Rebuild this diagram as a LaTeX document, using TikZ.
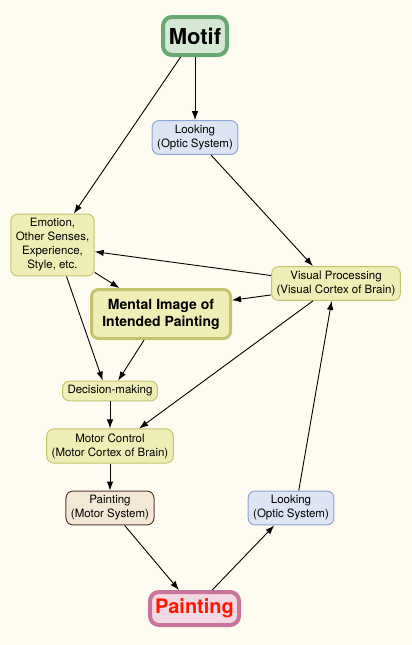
\documentclass[tikz,border=0pt]{standalone}
\usepackage{fontspec}
\setmainfont{TeX Gyre Heros}
\usetikzlibrary{positioning, arrows.meta}

\definecolor{bgcream}{RGB}{254,252,240}
\definecolor{yfill}{RGB}{238,238,182}
\definecolor{yline}{RGB}{196,196,112}
\definecolor{bfill}{RGB}{221,228,243}
\definecolor{bline}{RGB}{140,164,214}
\definecolor{gfill}{RGB}{213,232,212}
\definecolor{gline}{RGB}{104,168,114}
\definecolor{pfill}{RGB}{242,215,228}
\definecolor{pline}{RGB}{201,116,155}
\definecolor{pred}{RGB}{255,24,0}
\definecolor{tfill}{RGB}{243,232,212}
\definecolor{tline}{RGB}{88,56,56}

\begin{document}
\begin{tikzpicture}[x=1pt, y=1pt]
    % settings for this picture
    \tikzset{
      >={Latex[length=9pt,width=6.5pt]},
      on grid,
      every node/.style={font=\fontsize{11.5}{14}\selectfont, align=center,
        rounded corners=7pt, inner xsep=5pt, inner ysep=4.5pt},
      link/.style={->, line width=0.9pt},
      yellowbox/.style={draw=yline, fill=yfill, line width=1pt},
      bluebox/.style={draw=bline, fill=bfill, line width=1pt},
      tanbox/.style={draw=tline, fill=tfill, line width=1pt},
      bigbox/.style={line width=4pt, inner sep=0pt, rounded corners=9pt},
    }
    \fill[bgcream] (0,0) rectangle (412,-645);
    \useasboundingbox (0,0) rectangle (412,-645);

    % nodes
    \node[bigbox, draw=gline, fill=gfill, minimum width=64pt, minimum height=38pt,
          font=\fontsize{22}{26}\selectfont\bfseries] (motif) at (195,-36) {Motif};
    \node[bluebox, below=101.5pt of motif] (look1) {Looking\\(Optic System)};
    \node[yellowbox, below left=209pt and 142.5pt of motif] (emotion)
         {Emotion,\\Other Senses,\\Experience,\\Style, etc.};
    \node[yellowbox, line width=3pt, minimum width=139pt, minimum height=49pt, inner sep=0pt,
          font=\fontsize{14}{17}\selectfont\bfseries, below right=69pt and 108.5pt of emotion] (mental)
         {Mental Image of\\Intended Painting};
    \node[yellowbox, below right=146pt and 141pt of look1] (visual)
         {Visual Processing\\(Visual Cortex of Brain)};
    \node[yellowbox, below left=77pt and 51pt of mental] (decision) {Decision-making};
    \node[yellowbox, below=55pt of decision] (motor) {Motor Control\\(Motor Cortex of Brain)};
    \node[tanbox, below=62pt of motor] (paintm) {Painting\\(Motor System)};
    \node[bluebox, right=181pt of paintm] (look2) {Looking\\(Optic System)};
    \node[bigbox, draw=pline, fill=pfill, text=pred, minimum width=89pt, minimum height=33pt,
          font=\fontsize{20}{24}\selectfont\bfseries, below right=100.5pt and 84.5pt of paintm] (painting)
         {Painting};

    % arrows
    \draw[link] (motif) -- (look1);
    \draw[link] (motif) -- (emotion);
    \draw[link] (look1) -- (visual.143);
    \draw[link] (visual.173) -- (emotion.-9);
    \draw[link] (visual.190) -- (mental.11);
    \draw[link] (emotion.-33) -- (mental.148);
    \draw[link] (emotion.-66) -- (decision.125);
    \draw[link] (mental.-123) -- (decision.52);
    \draw[link] (visual.217) -- (motor.31);
    \draw[link] (decision) -- (motor);
    \draw[link] (motor) -- (paintm);
    \draw[link] (paintm) -- (painting);
    \draw[link] (painting) -- (look2);
    \draw[link] (look2.66) -- (visual.-104);

\end{tikzpicture}
\end{document}
